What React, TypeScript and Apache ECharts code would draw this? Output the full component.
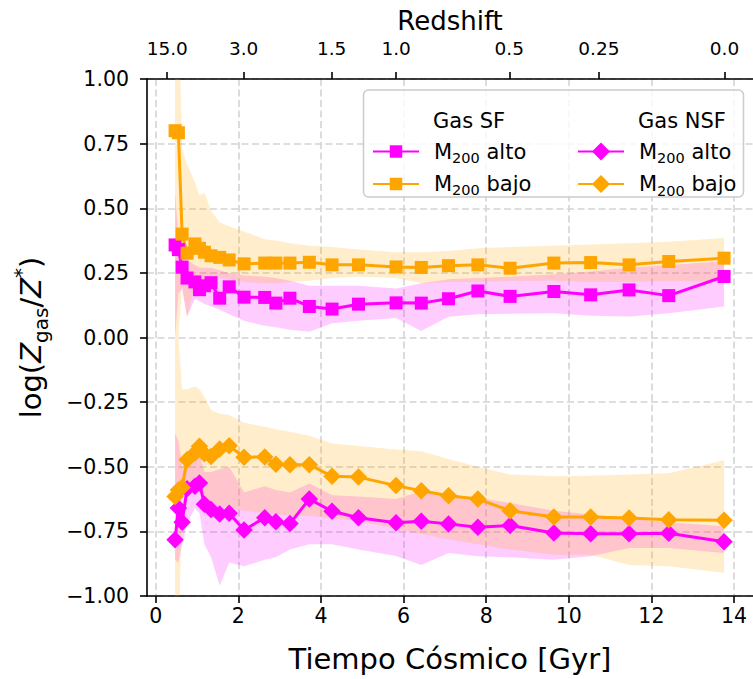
import React, { useEffect, useRef } from "react";
import * as echarts from "echarts";

// ---------- data ----------
const time = [0.47, 0.55, 0.64, 0.76, 0.95, 1.06, 1.18, 1.34, 1.55, 1.78, 2.14, 2.64, 2.91, 3.25, 3.72, 4.27, 4.91, 5.82, 6.43, 7.09, 7.8, 8.58, 9.64, 10.53, 11.46, 12.42, 13.76];

const sfAlto = [0.358, 0.34, 0.272, 0.23, 0.215, 0.185, 0.2, 0.212, 0.152, 0.196, 0.156, 0.155, 0.133, 0.152, 0.12, 0.11, 0.129, 0.134, 0.133, 0.15, 0.18, 0.159, 0.178, 0.165, 0.184, 0.162, 0.236];
const sfBajo = [0.8, 0.792, 0.4, 0.326, 0.362, 0.345, 0.33, 0.316, 0.31, 0.3, 0.285, 0.288, 0.288, 0.288, 0.291, 0.281, 0.281, 0.273, 0.271, 0.278, 0.281, 0.268, 0.288, 0.29, 0.281, 0.294, 0.307];
const nsfAlto = [-0.782, -0.66, -0.715, -0.585, -0.575, -0.563, -0.645, -0.665, -0.683, -0.68, -0.745, -0.697, -0.713, -0.72, -0.625, -0.672, -0.697, -0.717, -0.711, -0.721, -0.734, -0.727, -0.756, -0.759, -0.759, -0.757, -0.79];
const nsfBajo = [-0.615, -0.59, -0.58, -0.473, -0.447, -0.421, -0.45, -0.46, -0.431, -0.419, -0.463, -0.462, -0.49, -0.492, -0.492, -0.537, -0.54, -0.573, -0.593, -0.612, -0.625, -0.67, -0.694, -0.694, -0.698, -0.705, -0.707];

// scatter bands (upper / lower)
const sfAltoUp = [0.56, 0.4, 0.33, 0.3, 0.28, 0.27, 0.27, 0.27, 0.26, 0.25, 0.24, 0.235, 0.23, 0.22, 0.2, 0.2, 0.2, 0.19, 0.21, 0.225, 0.23, 0.235, 0.245, 0.255, 0.27, 0.28, 0.295];
const sfAltoLo = [0.0, 0.17, 0.19, 0.08, 0.15, 0.14, 0.13, 0.12, 0.107, 0.09, 0.065, 0.045, 0.04, 0.03, 0.022, 0.055, 0.065, 0.075, 0.025, 0.08, 0.09, 0.092, 0.094, 0.084, 0.081, 0.094, 0.12];
const sfBajoUp = [1.5, 1.3, 0.73, 0.67, 0.6, 0.55, 0.56, 0.49, 0.445, 0.43, 0.41, 0.38, 0.375, 0.365, 0.355, 0.35, 0.34, 0.33, 0.33, 0.335, 0.345, 0.35, 0.355, 0.36, 0.365, 0.37, 0.385];
const sfBajoLo = [0.1, 0.0, 0.2, 0.08, 0.2, 0.22, 0.22, 0.23, 0.23, 0.225, 0.215, 0.21, 0.21, 0.215, 0.22, 0.23, 0.235, 0.23, 0.21, 0.215, 0.215, 0.22, 0.22, 0.215, 0.215, 0.218, 0.217];
const nsfAltoUp = [-0.37, -0.4, -0.5, -0.48, -0.47, -0.45, -0.52, -0.52, -0.51, -0.5, -0.6, -0.575, -0.59, -0.6, -0.565, -0.61, -0.615, -0.625, -0.595, -0.61, -0.62, -0.64, -0.67, -0.685, -0.7, -0.715, -0.73];
const nsfAltoLo = [-0.86, -0.87, -0.8, -0.72, -0.66, -0.68, -0.8, -0.85, -0.96, -0.87, -0.885, -0.86, -0.85, -0.82, -0.8, -0.8, -0.82, -0.845, -0.88, -0.834, -0.846, -0.85, -0.86, -0.846, -0.814, -0.814, -0.834];
const nsfBajoUp = [0.1, 0.0, -0.2, -0.2, -0.19, -0.2, -0.23, -0.28, -0.295, -0.3, -0.33, -0.345, -0.355, -0.365, -0.38, -0.41, -0.42, -0.433, -0.44, -0.47, -0.5, -0.53, -0.537, -0.535, -0.53, -0.525, -0.475];
const nsfBajoLo = [-1.3, -1.2, -0.62, -0.6, -0.58, -0.6, -0.62, -0.64, -0.65, -0.66, -0.67, -0.68, -0.685, -0.69, -0.69, -0.7, -0.71, -0.74, -0.76, -0.78, -0.8, -0.82, -0.84, -0.84, -0.88, -0.885, -0.91];

const timeTicks = [0, 2, 4, 6, 8, 10, 12, 14];
const redshiftLabels = ["15.0", "3.0", "1.5", "1.0", "0.5", "0.25", "0.0"];
const redshiftTimes = [0.28, 2.13, 4.26, 5.82, 8.56, 10.73, 13.77];

// ---------- styles ----------
const FONT = "DejaVu Sans";
const MAGENTA = "#ff00ff";
const ORANGE = "#ffa500";
const BAND_MAGENTA = "rgba(255,0,255,0.2)";
const BAND_ORANGE = "rgba(255,165,0,0.2)";
const X_MIN = -0.21;
const X_MAX = 14.46;

const spine = { color: "#000", width: 1.6 };
const tickStyle = { show: true, length: 7, lineStyle: { color: "#000", width: 1.6 } };
const gridLine = { show: true, lineStyle: { color: "#d4d4d4", width: 1.6, type: [7, 3.5] } };

function band(name: string, up: number[], lo: number[], fill: string) {
  return {
    type: "custom",
    name,
    xAxisIndex: 0,
    yAxisIndex: 0,
    z: 1,
    silent: true,
    clip: true,
    data: [[time[0], lo[0]]],
    renderItem: (params: any, api: any) => {
      const pts: number[][] = [];
      for (let i = 0; i < time.length; i++) pts.push(api.coord([time[i], up[i]]));
      for (let i = time.length - 1; i >= 0; i--) pts.push(api.coord([time[i], lo[i]]));
      return { type: "polygon", shape: { points: pts }, style: { fill } };
    },
  };
}

function line(name: string, values: number[], color: string, symbol: string, size: number) {
  return {
    type: "line",
    name,
    xAxisIndex: 0,
    yAxisIndex: 0,
    z: 3,
    data: time.map((t, i) => [t, values[i]]),
    symbol,
    symbolSize: size,
    showSymbol: true,
    showAllSymbol: true,
    lineStyle: { color, width: 3 },
    itemStyle: { color, borderWidth: 0 },
    emphasis: { disabled: true },
    clip: true,
  };
}

const legendRich = {
  g: { width: 10, fontSize: 21, lineHeight: 28 },
  m: { fontSize: 21, lineHeight: 28, fontFamily: FONT, color: "#000", verticalAlign: "middle" },
  s: { fontSize: 14.5, lineHeight: 16, fontFamily: FONT, color: "#000", verticalAlign: "bottom" },
};
const legendFormatter = (name: string) => `{g| }{m|M}{s|200}{m| ${name.endsWith("alto") ? "alto" : "bajo"}}`;

export default function App() {
  const ref = useRef<HTMLDivElement>(null);
  useEffect(() => {
    if (!ref.current) return;
    const chart = echarts.init(ref.current, null, { renderer: "svg" });
    const option: any = {
      animation: false,
      backgroundColor: "#fff",
      textStyle: { fontFamily: FONT },
      grid: { left: 147, top: 79, width: 609, height: 517 },
      xAxis: [
        {
          type: "value",
          position: "bottom",
          min: X_MIN,
          max: X_MAX,
          axisLine: { show: true, onZero: false, lineStyle: spine },
          axisTick: { ...tickStyle, customValues: timeTicks },
          axisLabel: {
            customValues: timeTicks,
            color: "#000",
            fontSize: 20.5,
            fontFamily: FONT,
            margin: 9,
            formatter: (v: number) => String(v),
          },
          splitLine: gridLine,
          name: "Tiempo Cósmico [Gyr]",
          nameLocation: "middle",
          nameGap: 48,
          nameTextStyle: { fontSize: 29, color: "#000", fontFamily: FONT },
        },
        {
          type: "value",
          position: "top",
          min: X_MIN,
          max: X_MAX,
          axisLine: { show: true, onZero: false, lineStyle: spine },
          axisTick: { ...tickStyle, customValues: redshiftTimes },
          axisLabel: {
            customValues: redshiftTimes,
            color: "#000",
            fontSize: 18.5,
            fontFamily: FONT,
            margin: 21,
            formatter: (v: number) => {
              const i = redshiftTimes.findIndex((t) => Math.abs(t - v) < 1e-6);
              return i >= 0 ? redshiftLabels[i] : "";
            },
          },
          splitLine: { show: false },
          name: "Redshift",
          nameLocation: "middle",
          nameGap: 44,
          nameTextStyle: { fontSize: 26, color: "#000", fontFamily: FONT },
        },
      ],
      yAxis: {
        type: "value",
        min: -1,
        max: 1,
        interval: 0.25,
        axisLine: { show: true, onZero: false, lineStyle: spine },
        axisTick: tickStyle,
        axisLabel: {
          color: "#000",
          fontSize: 20.5,
          fontFamily: FONT,
          margin: 18,
          formatter: (v: number) => (v < 0 ? "\u2212" : "") + Math.abs(v).toFixed(2),
        },
        splitLine: gridLine,
        name: "{n|log(}{i|Z}{sub|gas}{n|/}{i|Z}{sup|*}{n|)}",
        nameLocation: "middle",
        nameRotate: 90,
        nameGap: 96,
        nameTextStyle: {
          color: "#000",
          fontFamily: FONT,
          fontSize: 29,
          rich: {
            n: { fontSize: 29, lineHeight: 40, fontFamily: FONT, color: "#000", verticalAlign: "middle" },
            i: { fontSize: 29, lineHeight: 40, fontFamily: FONT, fontStyle: "italic", color: "#000", verticalAlign: "middle" },
            sub: { fontSize: 20, lineHeight: 20, fontFamily: FONT, color: "#000", verticalAlign: "bottom" },
            sup: { fontSize: 20, lineHeight: 22, fontFamily: FONT, color: "#000", verticalAlign: "top" },
          },
        },
      },
      legend: [
        {
          data: ["SF alto", "SF bajo"],
          orient: "vertical",
          left: 372,
          top: 141,
          padding: 0,
          itemGap: 8,
          itemWidth: 46,
          itemHeight: 15.6,
          z: 20,
          selectedMode: false,
          formatter: legendFormatter,
          textStyle: { fontFamily: FONT, fontSize: 21, color: "#000", rich: legendRich },
        },
        {
          data: ["NSF alto", "NSF bajo"],
          orient: "vertical",
          left: 577,
          top: 141,
          padding: 0,
          itemGap: 8,
          itemWidth: 46,
          itemHeight: 22.5,
          z: 20,
          selectedMode: false,
          formatter: legendFormatter,
          textStyle: { fontFamily: FONT, fontSize: 21, color: "#000", rich: legendRich },
        },
      ],
      graphic: [
        {
          type: "rect",
          z: 15,
          shape: { x: 363.5, y: 90, width: 380, height: 107, r: 5 },
          style: { fill: "rgba(255,255,255,0.8)", stroke: "#cccccc", lineWidth: 1.5 },
        },
        {
          type: "text",
          z: 21,
          x: 433,
          y: 121,
          style: { text: "Gas SF", fontSize: 21, fontFamily: FONT, fill: "#000", verticalAlign: "middle" },
        },
        {
          type: "text",
          z: 21,
          x: 638,
          y: 121,
          style: { text: "Gas NSF", fontSize: 21, fontFamily: FONT, fill: "#000", verticalAlign: "middle" },
        },
      ],
      series: [
        band("band NSF alto", nsfAltoUp, nsfAltoLo, BAND_MAGENTA),
        band("band SF alto", sfAltoUp, sfAltoLo, BAND_MAGENTA),
        band("band SF bajo", sfBajoUp, sfBajoLo, BAND_ORANGE),
        band("band NSF bajo", nsfBajoUp, nsfBajoLo, BAND_ORANGE),
        line("SF alto", sfAlto, MAGENTA, "rect", 13),
        line("SF bajo", sfBajo, ORANGE, "rect", 13),
        line("NSF alto", nsfAlto, MAGENTA, "diamond", 17.5),
        line("NSF bajo", nsfBajo, ORANGE, "diamond", 17.5),
      ],
    };
    chart.setOption(option);
    return () => chart.dispose();
  }, []);
  return (
    <div
      ref={ref}
      style={{ position: "absolute", left: 0, top: 0, width: 753, height: 679, background: "#fff" }}
    />
  );
}
